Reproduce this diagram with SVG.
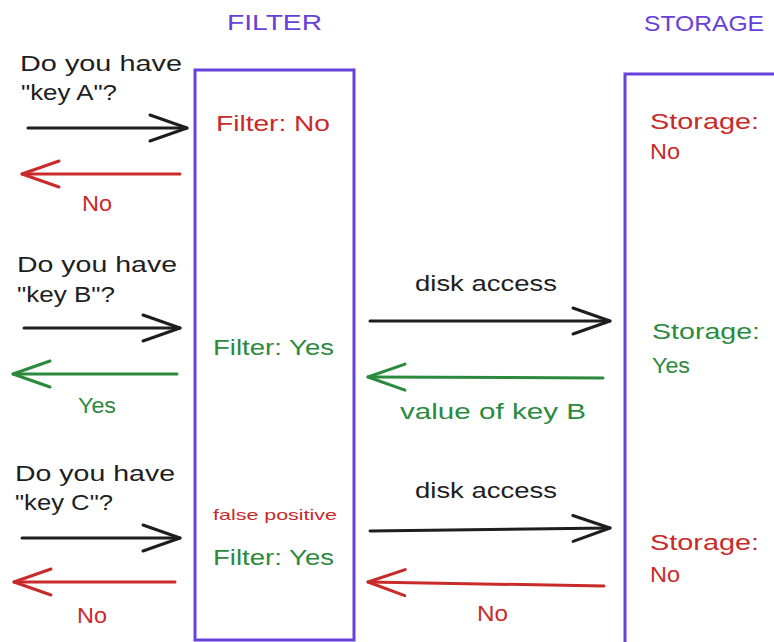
<svg xmlns="http://www.w3.org/2000/svg" width="774" height="642" viewBox="0 0 774 642">
<style>
text{font-family:"Liberation Sans",Arial,sans-serif;font-size:22px}
.k{fill:#1e1e1e}.r{fill:#c92a2a}.g{fill:#2b8a3e}.p{fill:#6741d9}
.sm{font-size:15px}
.box{fill:none;stroke:#6741d9;stroke-width:3}
.ak{stroke:#1e1e1e;stroke-width:3;fill:none;stroke-linecap:round}
.ar{stroke:#c92a2a;stroke-width:3;fill:none;stroke-linecap:round}
.ag{stroke:#2b8a3e;stroke-width:3;fill:none;stroke-linecap:round}
</style>
<defs>
<marker id="hk" markerUnits="userSpaceOnUse" viewBox="-42 -16 46 32" markerWidth="46" markerHeight="32" refX="0" refY="0" orient="auto"><path d="M-37,-13 L0,0 L-37,13" fill="none" stroke="#1e1e1e" stroke-width="3" stroke-linecap="round" stroke-linejoin="round"/></marker>
<marker id="hr" markerUnits="userSpaceOnUse" viewBox="-42 -16 46 32" markerWidth="46" markerHeight="32" refX="0" refY="0" orient="auto"><path d="M-37,-13 L0,0 L-37,13" fill="none" stroke="#c92a2a" stroke-width="3" stroke-linecap="round" stroke-linejoin="round"/></marker>
<marker id="hg" markerUnits="userSpaceOnUse" viewBox="-42 -16 46 32" markerWidth="46" markerHeight="32" refX="0" refY="0" orient="auto"><path d="M-37,-13 L0,0 L-37,13" fill="none" stroke="#2b8a3e" stroke-width="3" stroke-linecap="round" stroke-linejoin="round"/></marker>
</defs>
<rect width="774" height="642" fill="#ffffff"/>

<g id="filter">
<text class="p" x="227" y="30" textLength="95" lengthAdjust="spacingAndGlyphs">FILTER</text>
<rect class="box" x="195" y="70" width="159" height="570"/>
<text class="r" x="216" y="131" textLength="114" lengthAdjust="spacingAndGlyphs">Filter: No</text>
<text class="g" x="213" y="355" textLength="121" lengthAdjust="spacingAndGlyphs">Filter: Yes</text>
<text class="r sm" x="213" y="520" textLength="124" lengthAdjust="spacingAndGlyphs">false positive</text>
<text class="g" x="213" y="565" textLength="121" lengthAdjust="spacingAndGlyphs">Filter: Yes</text>
</g>

<g id="storage">
<text class="p" x="644" y="31" textLength="120" lengthAdjust="spacingAndGlyphs">STORAGE</text>
<path class="box" d="M790,74 L625,74 L625,650"/>
<text class="r" x="650" y="129" textLength="109" lengthAdjust="spacingAndGlyphs">Storage:</text>
<text class="r" x="650" y="159" textLength="30" lengthAdjust="spacingAndGlyphs">No</text>
<text class="g" x="652" y="339" textLength="108" lengthAdjust="spacingAndGlyphs">Storage:</text>
<text class="g" x="652" y="373" textLength="38" lengthAdjust="spacingAndGlyphs">Yes</text>
<text class="r" x="650" y="550" textLength="109" lengthAdjust="spacingAndGlyphs">Storage:</text>
<text class="r" x="650" y="582" textLength="30" lengthAdjust="spacingAndGlyphs">No</text>
</g>

<g id="queries">
<text class="k" x="20" y="71" textLength="162" lengthAdjust="spacingAndGlyphs">Do you have</text>
<text class="k" x="21" y="100" textLength="96" lengthAdjust="spacingAndGlyphs">"key A"?</text>
<text class="k" x="17" y="272" textLength="160" lengthAdjust="spacingAndGlyphs">Do you have</text>
<text class="k" x="17" y="302" textLength="98" lengthAdjust="spacingAndGlyphs">"key B"?</text>
<text class="k" x="15" y="481" textLength="160" lengthAdjust="spacingAndGlyphs">Do you have</text>
<text class="k" x="15" y="510" textLength="98" lengthAdjust="spacingAndGlyphs">"key C"?</text>
</g>

<g id="connectors">
<path class="ak" d="M28,128 L187,128" marker-end="url(#hk)"/>
<path class="ar" d="M180,174 L22,174" marker-end="url(#hr)"/>
<text class="r" x="82" y="211" textLength="30" lengthAdjust="spacingAndGlyphs">No</text>

<path class="ak" d="M24,328 L180,328" marker-end="url(#hk)"/>
<path class="ag" d="M177,374 L13,374" marker-end="url(#hg)"/>
<text class="g" x="78" y="413" textLength="38" lengthAdjust="spacingAndGlyphs">Yes</text>
<text class="k" x="415" y="291" textLength="142" lengthAdjust="spacingAndGlyphs">disk access</text>
<path class="ak" d="M370,321 L610,321" marker-end="url(#hk)"/>
<path class="ag" d="M603,378 L368,377" marker-end="url(#hg)"/>
<text class="g" x="400" y="419" textLength="186" lengthAdjust="spacingAndGlyphs">value of key B</text>

<path class="ak" d="M22,538 L180,538" marker-end="url(#hk)"/>
<path class="ar" d="M175,582 L14,582" marker-end="url(#hr)"/>
<text class="r" x="77" y="623" textLength="30" lengthAdjust="spacingAndGlyphs">No</text>
<text class="k" x="415" y="498" textLength="142" lengthAdjust="spacingAndGlyphs">disk access</text>
<path class="ak" d="M370,531 L610,528" marker-end="url(#hk)"/>
<path class="ar" d="M604,586 L368,582" marker-end="url(#hr)"/>
<text class="r" x="477" y="621" textLength="31" lengthAdjust="spacingAndGlyphs">No</text>
</g>
</svg>
